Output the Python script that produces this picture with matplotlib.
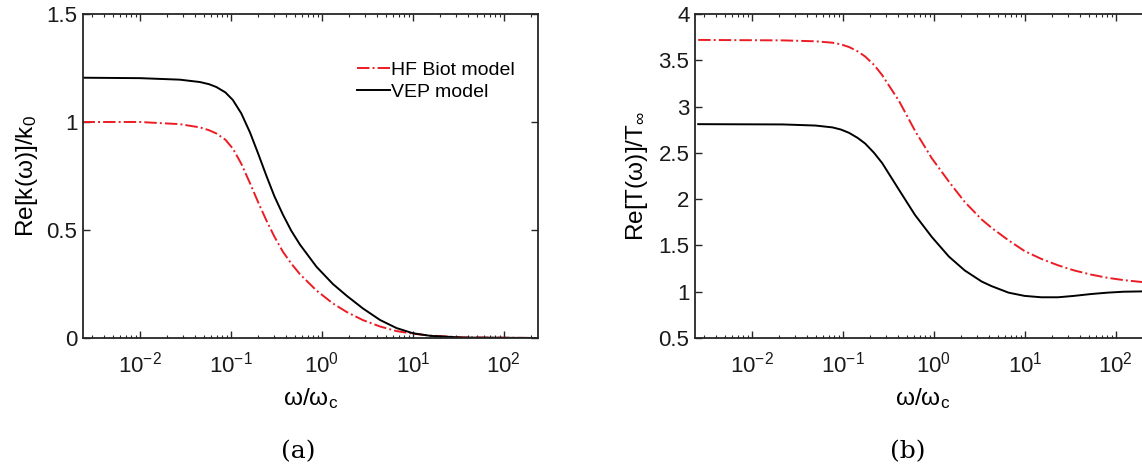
import numpy as np
import matplotlib
matplotlib.use('Agg')
import matplotlib.pyplot as plt
from matplotlib.ticker import LogLocator, FuncFormatter, NullFormatter

plt.rcParams['font.family'] = ['Liberation Sans', 'DejaVu Sans']
plt.rcParams['mathtext.fontset'] = 'custom'
plt.rcParams['mathtext.rm'] = 'Liberation Sans'
plt.rcParams['mathtext.it'] = 'Liberation Sans:italic'
plt.rcParams['mathtext.sf'] = 'Liberation Sans'

# (a) real part of dynamic permeability
w_a = [0.00234, 0.01, 0.0275, 0.0457, 0.0575, 0.0692, 0.087, 0.105, 0.13, 0.162, 0.2, 0.245,
       0.3, 0.372, 0.46, 0.575, 0.871, 1.32, 1.88, 2.82, 4.37, 6.61, 10, 15.5, 35.5, 236]
k_hf = [1.0, 1.0, 0.99, 0.975, 0.962, 0.947, 0.918, 0.877, 0.807, 0.717, 0.627, 0.545,
        0.47, 0.40, 0.345, 0.295, 0.22, 0.16, 0.12, 0.083, 0.053, 0.032, 0.02, 0.011, 0.003, 0.0]
k_vep = [1.205, 1.203, 1.196, 1.185, 1.175, 1.162, 1.137, 1.102, 1.04, 0.952, 0.852, 0.752,
         0.657, 0.572, 0.497, 0.432, 0.33, 0.25, 0.195, 0.137, 0.083, 0.046, 0.022, 0.01, 0.002, 0.0]

# (b) real part of dynamic tortuosity
w_b = [0.00257, 0.0219, 0.0501, 0.0767, 0.095, 0.117, 0.145, 0.176, 0.22, 0.270, 0.414,
       0.619, 0.951, 1.46, 2.18, 3.35, 4.31, 6.61, 9.89, 15.1, 23.2, 34.7, 53.3, 81.3, 122, 240]
t_hf = [3.72, 3.715, 3.705, 3.69, 3.672, 3.643, 3.597, 3.54, 3.45, 3.34, 3.06,
        2.74, 2.44, 2.19, 1.97, 1.78, 1.69, 1.555, 1.44, 1.355, 1.285, 1.23, 1.185, 1.15, 1.125, 1.095]
t_vep = [2.81, 2.807, 2.795, 2.775, 2.752, 2.716, 2.662, 2.60, 2.50, 2.39, 2.10,
         1.83, 1.59, 1.38, 1.23, 1.11, 1.06, 0.99, 0.955, 0.94, 0.94, 0.955, 0.975, 0.99, 1.0, 1.005]

red = '#ec1c24'
axc = '#262626'

fig = plt.figure(figsize=(11.42, 4.75), dpi=100)
ax1 = fig.add_axes([83/1142, 137/475, 455/1142, 324/475])
ax2 = fig.add_axes([695/1142, 137/475, 455/1142, 324/475])

def style(ax):
    ax.set_xscale('log')
    ax.set_xlim(0.00237, 237)
    ax.xaxis.set_major_locator(LogLocator(base=10, numticks=10))
    ax.xaxis.set_minor_locator(LogLocator(base=10, subs=np.arange(2, 10), numticks=20))
    ax.xaxis.set_minor_formatter(NullFormatter())
    ax.xaxis.set_major_formatter(FuncFormatter(lambda v, p: '10$^{%d}$' % round(np.log10(v))))
    ax.tick_params(which='both', direction='in', top=True, right=True, colors=axc,
                   labelcolor='#1a1a1a', labelsize=16)
    ax.tick_params(axis='x', which='major', length=5, width=1, pad=10)
    ax.tick_params(axis='x', which='minor', length=2.5, width=0.8)
    ax.tick_params(axis='y', which='major', length=5, width=1, pad=4)
    for s in ax.spines.values():
        s.set_linewidth(1.3)
        s.set_color(axc)
    ax.set_xlabel('ω/ω$_{\\mathrm{c}}$', fontsize=17.6, labelpad=6)

ax1.plot(w_a, k_hf, '-.', color=red, lw=1.4, label='HF Biot model')
ax1.plot(w_a, k_vep, '-', color='black', lw=1.4, label='VEP model')
style(ax1)
ax1.set_ylim(0, 1.5)
ax1.set_yticks([0, 0.5, 1, 1.5])
ax1.set_yticklabels(['0', '0.5', '1', '1.5'])
ax1.set_ylabel('Re[k(ω)]/k$_0$', fontsize=17.6, labelpad=5)
ax1.legend(loc='upper right', bbox_to_anchor=(0.948, 0.855), frameon=False, fontsize=14,
           handlelength=1.7, handletextpad=0.05, labelspacing=0.25,
           borderpad=0, borderaxespad=0)

ax2.plot(w_b, t_hf, '-.', color=red, lw=1.4)
ax2.plot(w_b, t_vep, '-', color='black', lw=1.4)
style(ax2)
ax2.set_ylim(0.5, 4)
ax2.set_yticks([0.5, 1, 1.5, 2, 2.5, 3, 3.5, 4])
ax2.set_yticklabels(['0.5', '1', '1.5', '2', '2.5', '3', '3.5', '4'])
ax2.set_ylabel('Re[T(ω)]/T$_{\\infty}$', fontsize=17.6, labelpad=6)

fig.text(298/1142, 1 - 452/475, '(a)', fontsize=18, family='DejaVu Serif', ha='center', va='center')
fig.text(908/1142, 1 - 452/475, '(b)', fontsize=18, family='DejaVu Serif', ha='center', va='center')

fig.savefig('out.png', dpi=100)
